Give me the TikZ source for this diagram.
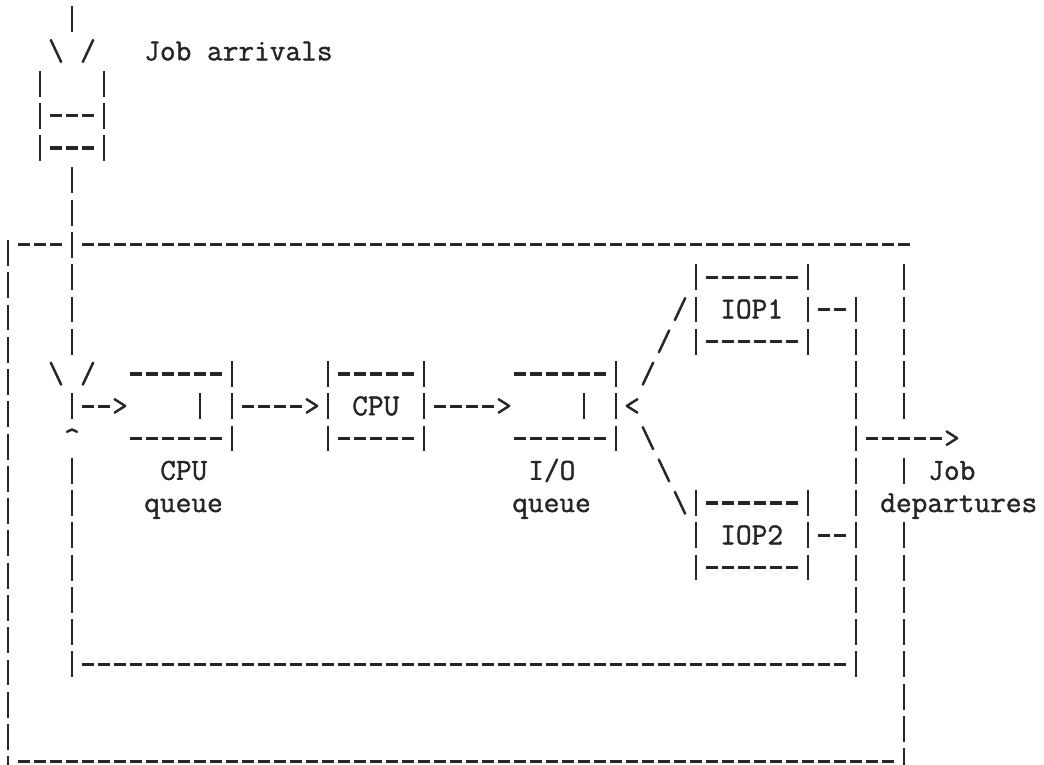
\documentclass[tikz,border=0pt]{standalone}
\usepackage{fontspec}
\newfontfamily\typew{Latin Modern Mono}[FakeBold=1.3]
\tikzset{
  ink/.style={color=black!85},
  hdash/.style={ink, line width=2.4pt, dash pattern=on 9pt off 3pt},
  vbar/.style={ink, line width=2.1pt, dash pattern=on 19.4pt off 4.8pt},
  glyph/.style={ink, inner sep=0pt, anchor=base, font=\typew\fontsize{22.86pt}{24pt}\selectfont},
  word/.style={ink, inner sep=0pt, anchor=base west, font=\typew\fontsize{22.86pt}{24pt}\selectfont}
}
% horizontal run of typed dashes: row, first column, last column
\newcommand\hd[3]{\draw[hdash] (#2-0.375,#1) -- (#3+0.375,#1);}
% vertical run of typed bars: column, first row, last row
\newcommand\vb[3]{\draw[vbar] (#1,#2-0.4) -- (#1,#3+0.4);}
\begin{document}
\begin{tikzpicture}[x=12pt,y=-24.2pt]
\useasboundingbox (-0.5,-0.589) rectangle (64.75,23.119);
% ---- arrivals funnel and buffer
\vb{4}{0}{0}
\node[glyph] (a1) at (3,1.28) {\textbackslash};
\node[glyph] (a2) at (5,1.28) {/};
\node[word] (arr) at (8.5,1.28) {Job arrivals};
\vb{2}{2}{4}
\vb{6}{2}{4}
\hd{3}{3}{5}
\hd{4}{3}{5}
\vb{4}{5}{10}
% ---- outer loop
\hd{7}{1}{3}
\hd{7}{5}{56}
\draw[vbar] (0,7-0.15) -- (0,23+0.4);
\hd{23}{1}{55}
\vb{56}{8}{12}
\vb{56}{14}{14}
\vb{56}{16}{23}
% ---- inner loop
\vb{4}{12}{12}
\node[glyph] (car) at (4,13.28) {\textasciicircum};
\vb{4}{14}{20}
\hd{20}{5}{52}
\vb{53}{9}{20}
% ---- merge into CPU queue
\node[glyph] (m1) at (3,11.28) {\textbackslash};
\node[glyph] (m2) at (5,11.28) {/};
\hd{12}{5}{6}
\node[glyph] (g1) at (7,12.28) {>};
% ---- CPU queue
\hd{11}{8}{13}
\hd{13}{8}{13}
\vb{14}{11}{13}
\vb{12}{12}{12}
\node[word] (cq1) at (9.5,14.28) {CPU};
\node[word] (cq2) at (8.5,15.28) {queue};
\hd{12}{15}{18}
\node[glyph] (g2) at (19,12.28) {>};
% ---- CPU
\hd{11}{21}{25}
\hd{13}{21}{25}
\vb{20}{11}{13}
\vb{26}{11}{13}
\node[word] (cpu) at (21.5,12.28) {CPU};
\hd{12}{27}{30}
\node[glyph] (g3) at (31,12.28) {>};
% ---- I/O queue
\hd{11}{32}{37}
\hd{13}{32}{37}
\vb{38}{11}{13}
\vb{36}{12}{12}
\node[word] (iq1) at (32.5,14.28) {I/O};
\node[word] (iq2) at (31.5,15.28) {queue};
\node[glyph] (lt) at (39,12.28) {<};
% ---- fork
\node[glyph] (s1) at (40,11.28) {/};
\node[glyph] (s2) at (41,10.28) {/};
\node[glyph] (s3) at (42,9.28) {/};
\node[glyph] (b1) at (40,13.28) {\textbackslash};
\node[glyph] (b2) at (41,14.28) {\textbackslash};
\node[glyph] (b3) at (42,15.28) {\textbackslash};
% ---- IOP1
\hd{8}{44}{49}
\hd{10}{44}{49}
\vb{43}{8}{10}
\vb{50}{8}{10}
\node[word] (iop1) at (44.5,9.28) {IOP1};
\hd{9}{51}{52}
% ---- IOP2
\hd{15}{44}{49}
\hd{17}{44}{49}
\vb{43}{15}{17}
\vb{50}{15}{17}
\node[word] (iop2) at (44.5,16.28) {IOP2};
\hd{16}{51}{52}
% ---- departures
\hd{13}{54}{58}
\node[glyph] (g4) at (59,13.28) {>};
\node[word] (dep1) at (57.5,14.28) {Job};
\node[word] (dep2) at (54.5,15.28) {departures};
\end{tikzpicture}
\end{document}
